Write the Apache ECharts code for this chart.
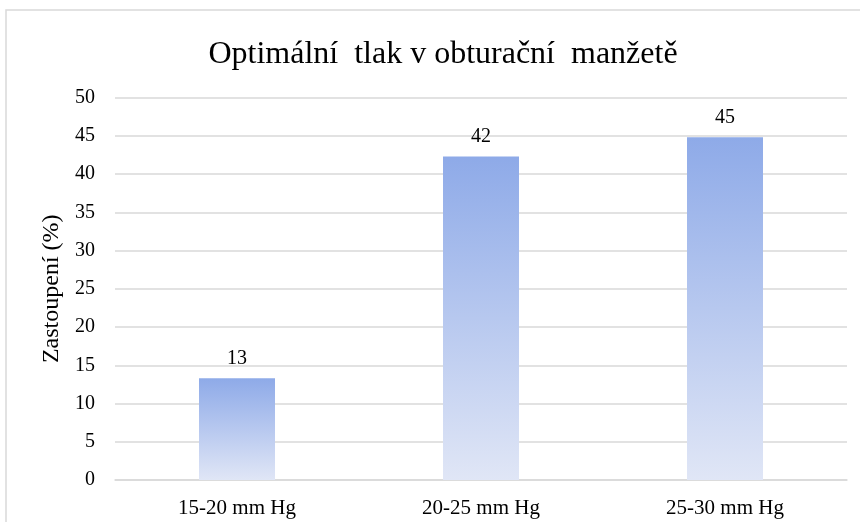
<!DOCTYPE html>
<html>
<head>
<meta charset="utf-8">
<script src="https://cdn.jsdelivr.net/npm/echarts@6/dist/echarts.min.js"></script>
<style>
  html, body { margin: 0; padding: 0; background: #fff; }
  #chart { width: 860px; height: 522px; }
</style>
</head>
<body>
<div id="chart"></div>
<script>
// data
var categories = ['15-20 mm Hg', '20-25 mm Hg', '25-30 mm Hg'];
var values = [13.3, 42.3, 44.8];

var font = '"Liberation Serif", "DejaVu Serif", serif';

var myChart = echarts.init(document.getElementById('chart'));

var option = {
    backgroundColor: '#fff',
    animation: false,
    title: {
        text: 'Optimální  tlak v obturační  manžetě',
        left: 438,
        textAlign: 'center',
        top: 34,
        textStyle: { fontFamily: font, fontSize: 32, fontWeight: 'normal', color: '#000' }
    },
    graphic: [{
        type: 'rect',
        shape: { x: 6, y: 10, width: 900, height: 600 },
        style: { fill: 'none', stroke: '#d9d9d9', lineWidth: 1.5 },
        silent: true
    }],
    grid: { left: 115, right: 13, top: 97.5, bottom: 42 },
    xAxis: {
        type: 'category',
        data: categories,
        axisLine: { lineStyle: { color: '#d9d9d9', width: 1.5 } },
        axisTick: { show: false },
        axisLabel: { fontFamily: font, fontSize: 21, color: '#000', margin: 18 }
    },
    yAxis: {
        type: 'value',
        min: 0,
        max: 50,
        interval: 5,
        name: 'Zastoupení (%)',
        nameLocation: 'middle',
        nameGap: 44,
        nameTextStyle: { fontFamily: font, fontSize: 24, color: '#000' },
        axisLine: { show: false },
        axisTick: { show: false },
        axisLabel: { fontFamily: font, fontSize: 20, color: '#000', margin: 20 },
        splitLine: { lineStyle: { color: '#d9d9d9', width: 1.5 } }
    },
    series: [{
        type: 'bar',
        data: values,
        barWidth: 76,
        itemStyle: {
            color: new echarts.graphic.LinearGradient(0, 0, 0, 1, [
                { offset: 0, color: '#8eaae8' },
                { offset: 1, color: '#e0e6f6' }
            ])
        },
        label: {
            show: true,
            position: 'top',
            distance: 10,
            fontFamily: font,
            fontSize: 20,
            color: '#000',
            formatter: function (p) { return Math.round(p.value); }
        }
    }]
};

myChart.setOption(option);
</script>
</body>
</html>
